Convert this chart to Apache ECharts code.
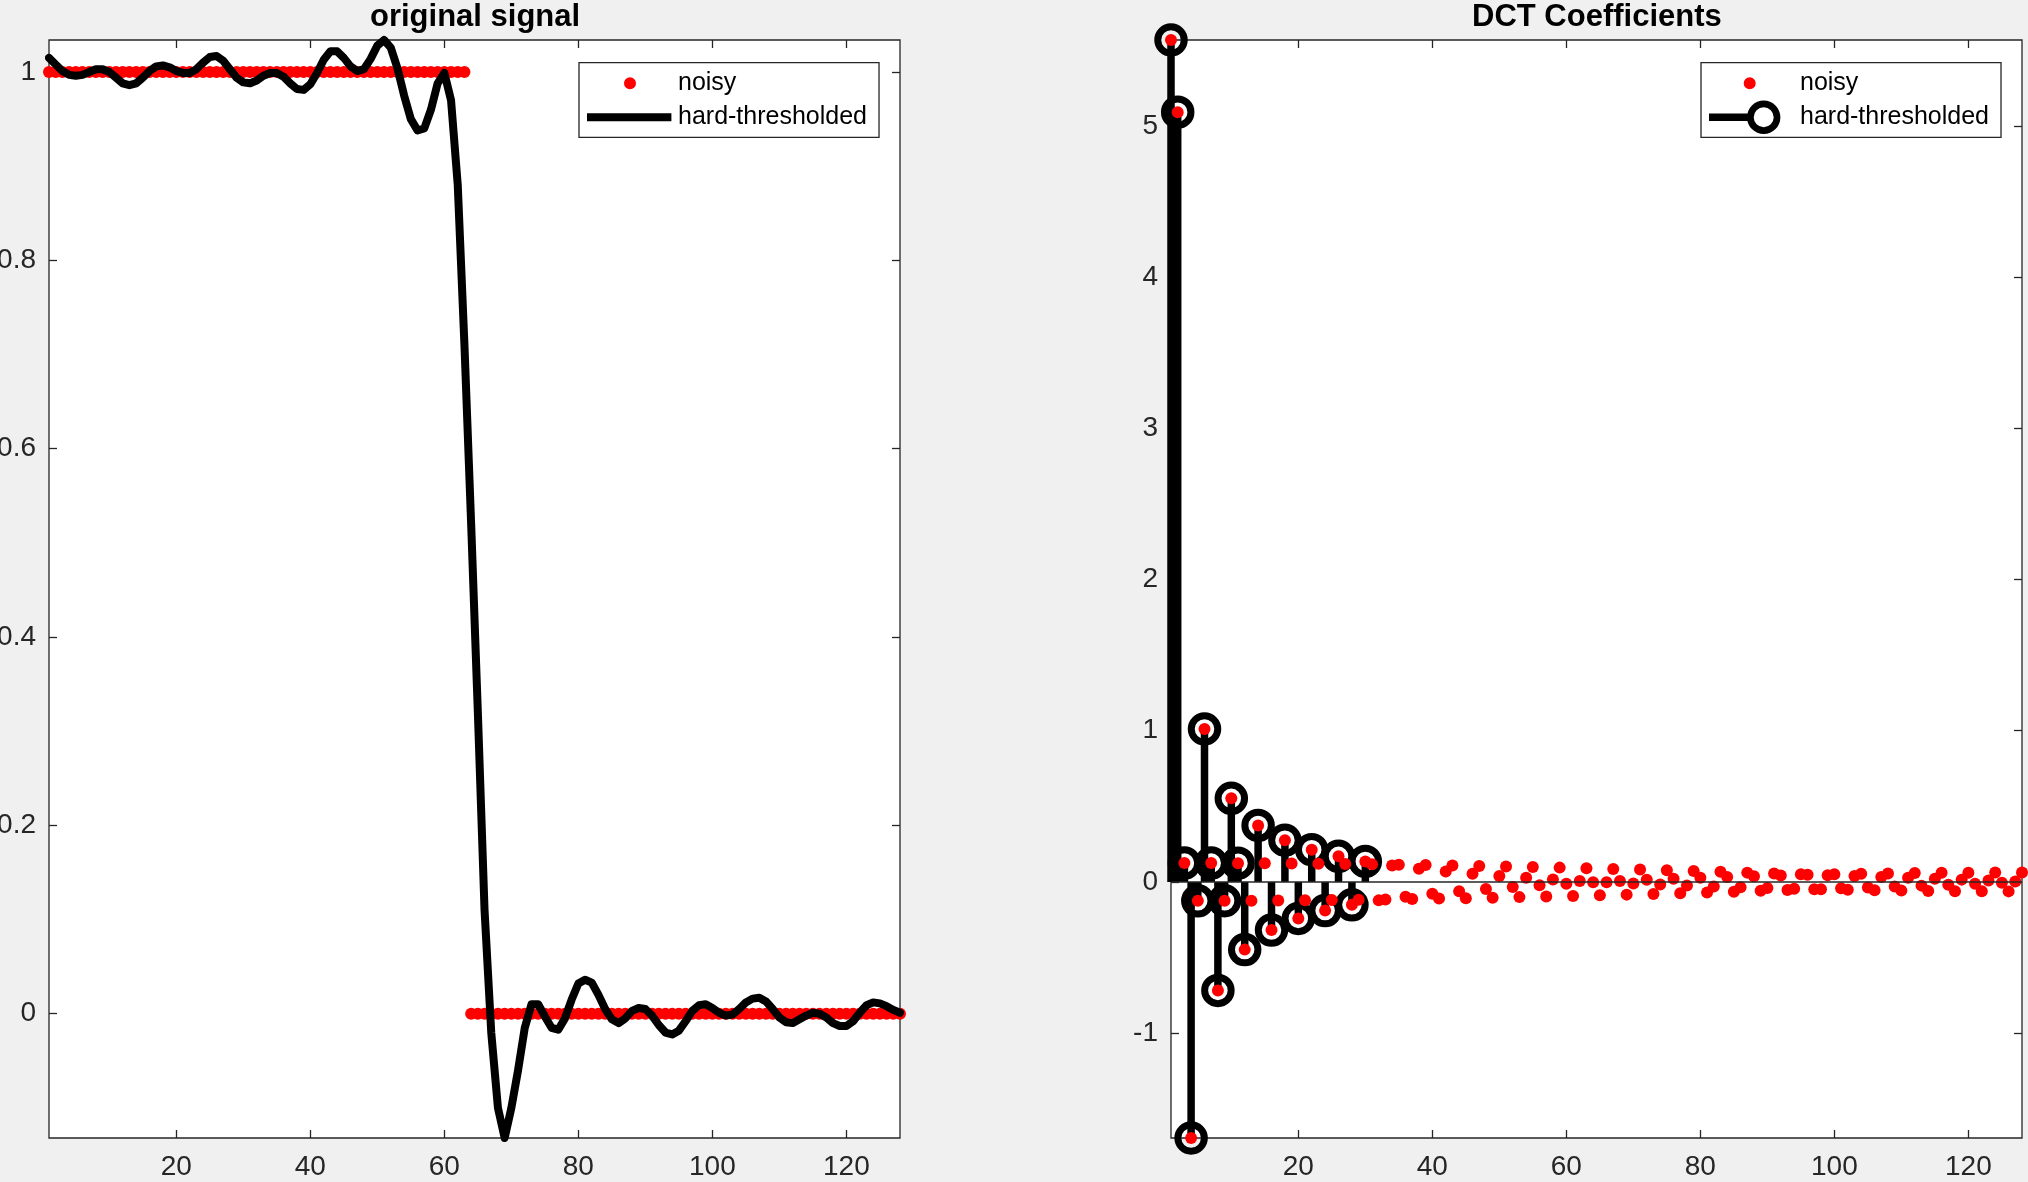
<!DOCTYPE html>
<html>
<head>
<meta charset="utf-8">
<title>original signal / DCT Coefficients</title>
<script src="https://cdn.jsdelivr.net/npm/echarts@6/dist/echarts.min.js"></script>
<style>
html, body { margin: 0; padding: 0; background: #f0f0f0; }
#chart { width: 2028px; height: 1182px; }
</style>
</head>
<body>
<div id="chart"></div>
<script>
// tick labels
var xTicks = [20, 40, 60, 80, 100, 120];
var signalYTicks = [0, 0.2, 0.4, 0.6, 0.8, 1];
var dctYTicks = [-1, 0, 1, 2, 3, 4, 5];

// left panel: noisy step (red dots) and the hard-thresholded reconstruction (black line)
var noisySignal = [
    1, 1, 1, 1, 1, 1, 1, 1, 1, 1,
    1, 1, 1, 1, 1, 1, 1, 1, 1, 1,
    1, 1, 1, 1, 1, 1, 1, 1, 1, 1,
    1, 1, 1, 1, 1, 1, 1, 1, 1, 1,
    1, 1, 1, 1, 1, 1, 1, 1, 1, 1,
    1, 1, 1, 1, 1, 1, 1, 1, 1, 1,
    1, 1, 1, 0, 0, 0, 0, 0, 0, 0,
    0, 0, 0, 0, 0, 0, 0, 0, 0, 0,
    0, 0, 0, 0, 0, 0, 0, 0, 0, 0,
    0, 0, 0, 0, 0, 0, 0, 0, 0, 0,
    0, 0, 0, 0, 0, 0, 0, 0, 0, 0,
    0, 0, 0, 0, 0, 0, 0, 0, 0, 0,
    0, 0, 0, 0, 0, 0, 0, 0
];
var thresholdedSignal = [
    1.015, 1.008, 1.001, 0.997, 0.996, 0.997, 1.000, 1.003, 1.003, 1.000,
    0.994, 0.988, 0.986, 0.988, 0.994, 1.001, 1.006, 1.007, 1.005, 1.001,
    0.999, 0.999, 1.003, 1.010, 1.016, 1.017, 1.012, 1.003, 0.994, 0.989,
    0.988, 0.991, 0.996, 0.999, 0.999, 0.995, 0.988, 0.982, 0.981, 0.987,
    0.999, 1.013, 1.022, 1.022, 1.015, 1.006, 1.001, 1.003, 1.014, 1.028,
    1.034, 1.026, 1.004, 0.975, 0.950, 0.938, 0.940, 0.960, 0.988, 0.999,
    0.970, 0.880, 0.710, 0.520, 0.320, 0.110, -0.020, -0.100, -0.132, -0.100,
    -0.060, -0.015, 0.010, 0.010, -0.003, -0.015, -0.017, -0.005, 0.015, 0.032,
    0.036, 0.033, 0.020, 0.005, -0.006, -0.010, -0.005, 0.003, 0.006, 0.005,
    -0.002, -0.012, -0.020, -0.022, -0.018, -0.008, 0.003, 0.009, 0.010, 0.006,
    0.001, -0.002, -0.001, 0.005, 0.012, 0.016, 0.017, 0.013, 0.005, -0.004,
    -0.009, -0.010, -0.006, -0.002, 0.001, 0.000, -0.004, -0.010, -0.013, -0.013,
    -0.008, 0.001, 0.009, 0.012, 0.011, 0.008, 0.004, 0.001
];

// right panel: DCT coefficients of the noisy signal, and which ones survive the threshold
var noisyDct = [
    5.5684, 5.0913, 0.1250, -1.6935, -0.1249, 1.0116, 0.1247, -0.7177, -0.1244, 0.5533,
    0.1241, -0.4476, -0.1237, 0.3736, 0.1232, -0.3186, -0.1226, 0.2759, 0.1220, -0.2416,
    -0.1213, 0.2134, 0.1205, -0.1896, -0.1196, 0.1692, 0.1187, -0.1515, -0.1177, 0.1358,
    0.1166, -0.1219, -0.1155, 0.1094, 0.1143, -0.0980, -0.1130, 0.0877, 0.1117, -0.0781,
    -0.1102, 0.0693, 0.1088, -0.0612, -0.1072, 0.0536, 0.1056, -0.0464, -0.1039, 0.0398,
    0.1022, -0.0335, -0.1004, 0.0275, 0.0985, -0.0219, -0.0966, 0.0166, 0.0947, -0.0116,
    -0.0926, 0.0068, 0.0905, -0.0022, -0.0884, -0.0021, 0.0862, 0.0063, -0.0839, -0.0102,
    0.0817, 0.0140, -0.0793, -0.0175, 0.0769, 0.0209, -0.0745, -0.0242, 0.0720, 0.0273,
    -0.0695, -0.0302, 0.0669, 0.0330, -0.0643, -0.0357, 0.0616, 0.0382, -0.0589, -0.0405,
    0.0562, 0.0428, -0.0534, -0.0449, 0.0507, 0.0469, -0.0478, -0.0488, 0.0450, 0.0505,
    -0.0421, -0.0521, 0.0392, 0.0536, -0.0363, -0.0550, 0.0333, 0.0562, -0.0304, -0.0574,
    0.0274, 0.0584, -0.0244, -0.0593, 0.0214, 0.0601, -0.0183, -0.0608, 0.0153, 0.0614,
    -0.0123, -0.0618, 0.0092, 0.0621, -0.0061, -0.0624, 0.0031, 0.0625
];
var keptIdx = [1, 2, 3, 4, 5, 6, 7, 8, 9, 10, 11, 12, 14, 16, 18, 20, 22, 24, 26, 28, 30];

var fontFam = "'Liberation Sans', Arial, Helvetica, sans-serif";
var axisColor = '#262626';

function toPairs(vals) {
    return vals.map(function (v, i) { return [i + 1, v]; });
}
var keptPairs = keptIdx.map(function (k) { return [k, noisyDct[k - 1]]; });

var sigMin = Math.min.apply(null, thresholdedSignal.concat(noisySignal));
var sigMax = Math.max.apply(null, thresholdedSignal.concat(noisySignal));
var dctMin = Math.min.apply(null, noisyDct);
var dctMax = Math.max.apply(null, noisyDct);

function makeX(grid, pos, labels) {
    return {
        gridIndex: grid, type: 'value', position: pos, min: 1, max: 128,
        axisLine: { show: false, onZero: false },
        splitLine: { show: false },
        axisTick: { inside: true, length: 8, customValues: xTicks,
            lineStyle: { color: axisColor, width: 1.3 } },
        axisLabel: { show: labels, customValues: xTicks, margin: 15,
            fontSize: 28, color: axisColor, fontFamily: fontFam }
    };
}
function makeY(grid, pos, labels, ticks, lo, hi) {
    return {
        gridIndex: grid, type: 'value', position: pos, min: lo, max: hi,
        axisLine: { show: false, onZero: false },
        splitLine: { show: false },
        axisTick: { inside: true, length: 8, customValues: ticks,
            lineStyle: { color: axisColor, width: 1.3 } },
        axisLabel: { show: labels, customValues: ticks, margin: 13,
            fontSize: 28, color: axisColor, fontFamily: fontFam,
            formatter: function (v) { return String(Math.round(v * 10) / 10); } }
    };
}

// legend icons: 86 x 34 boxes, corner points keep the box size
var box = 'M0,0L0.01,0ZM86,34L85.99,34Z';
var dotIconL = 'path://' + box + 'M37,17a6,6 0 1,0 12,0a6,6 0 1,0 -12,0Z';
var lineIcon = 'path://' + box + 'M0,13H84.4V21H0Z';
var dotIconR = 'path://' + box + 'M34.7,17a6,6 0 1,0 12,0a6,6 0 1,0 -12,0Z';
var stemIcon = 'path://' + box + 'M0,13.25H42V20.75H0Z' +
    'M38,17a16.7,16.7 0 1,1 33.4,0a16.7,16.7 0 1,1 -33.4,0Z' +
    'M44.7,17a10,10 0 1,0 20,0a10,10 0 1,0 -20,0Z';

function makeLegend(left, icons) {
    return {
        left: left, top: 62.7, orient: 'vertical',
        itemWidth: 86, itemHeight: 34, itemGap: 0,
        padding: [3.6, 12, 3, 8],
        backgroundColor: '#fff', borderColor: axisColor, borderWidth: 1.3, borderRadius: 0,
        selectedMode: false,
        textStyle: { fontSize: 25, color: '#000', fontFamily: fontFam, lineHeight: 25 },
        data: [
            { name: 'noisy', icon: icons[0], itemStyle: { color: '#ff0000', borderWidth: 0, opacity: 1 } },
            { name: 'hard-thresholded', icon: icons[1], itemStyle: { color: '#000', borderWidth: 0, opacity: 1 } }
        ]
    };
}

var chart = echarts.init(document.getElementById('chart'));
var option = {
    animation: false,
    backgroundColor: '#f0f0f0',
    title: [
        { text: 'original signal', left: 370, top: 2, padding: 0,
          textStyle: { fontSize: 31, fontWeight: 'bold', color: '#000', fontFamily: fontFam } },
        { text: 'DCT Coefficients', left: 1472, top: 2, padding: 0,
          textStyle: { fontSize: 31, fontWeight: 'bold', color: '#000', fontFamily: fontFam } }
    ],
    grid: [
        { left: 49, top: 40, width: 851, height: 1098, show: true, backgroundColor: '#fff',
          borderColor: axisColor, borderWidth: 1.3, containLabel: false, outerBoundsMode: 'none' },
        { left: 1171, top: 40, width: 851, height: 1098, show: true, backgroundColor: '#fff',
          borderColor: axisColor, borderWidth: 1.3, containLabel: false, outerBoundsMode: 'none' }
    ],
    legend: [
        makeLegend(579, [dotIconL, lineIcon]),
        makeLegend(1701, [dotIconR, stemIcon])
    ],
    xAxis: [
        makeX(0, 'bottom', true), makeX(0, 'top', false),
        makeX(1, 'bottom', true), makeX(1, 'top', false)
    ],
    yAxis: [
        makeY(0, 'left', true, signalYTicks, sigMin, sigMax),
        makeY(0, 'right', false, signalYTicks, sigMin, sigMax),
        makeY(1, 'left', true, dctYTicks, dctMin, dctMax),
        makeY(1, 'right', false, dctYTicks, dctMin, dctMax)
    ],
    series: [
        {
            name: 'noisy', type: 'scatter', xAxisIndex: 0, yAxisIndex: 0,
            data: toPairs(noisySignal), symbolSize: 12, clip: false, z: 2,
            itemStyle: { color: '#ff0000', opacity: 1 }, silent: true
        },
        {
            name: 'hard-thresholded', type: 'line', xAxisIndex: 0, yAxisIndex: 0,
            data: toPairs(thresholdedSignal), symbol: 'none', showSymbol: false,
            clip: false, z: 3, color: '#000', silent: true,
            lineStyle: { color: '#000', width: 8, cap: 'round', join: 'round', opacity: 1 }
        },
        {
            name: 'hard-thresholded', type: 'bar', xAxisIndex: 2, yAxisIndex: 2,
            data: keptPairs, barWidth: 7.5, z: 2, silent: true,
            itemStyle: { color: '#000', opacity: 1 },
            markLine: {
                silent: true, symbol: ['none', 'none'], label: { show: false },
                lineStyle: { color: axisColor, width: 1.5, type: 'solid' },
                data: [{ yAxis: 0 }]
            }
        },
        {
            name: 'hard-thresholded', type: 'scatter', xAxisIndex: 2, yAxisIndex: 2,
            data: keptPairs, symbolSize: 26.5, clip: false, z: 3, silent: true,
            itemStyle: { color: 'rgba(0,0,0,0)', borderColor: '#000', borderWidth: 7, opacity: 1 }
        },
        {
            name: 'noisy', type: 'scatter', xAxisIndex: 2, yAxisIndex: 2,
            data: toPairs(noisyDct), symbolSize: 12, clip: false, z: 4, silent: true,
            itemStyle: { color: '#ff0000', opacity: 1 }
        }
    ]
};
chart.setOption(option);
</script>
</body>
</html>
